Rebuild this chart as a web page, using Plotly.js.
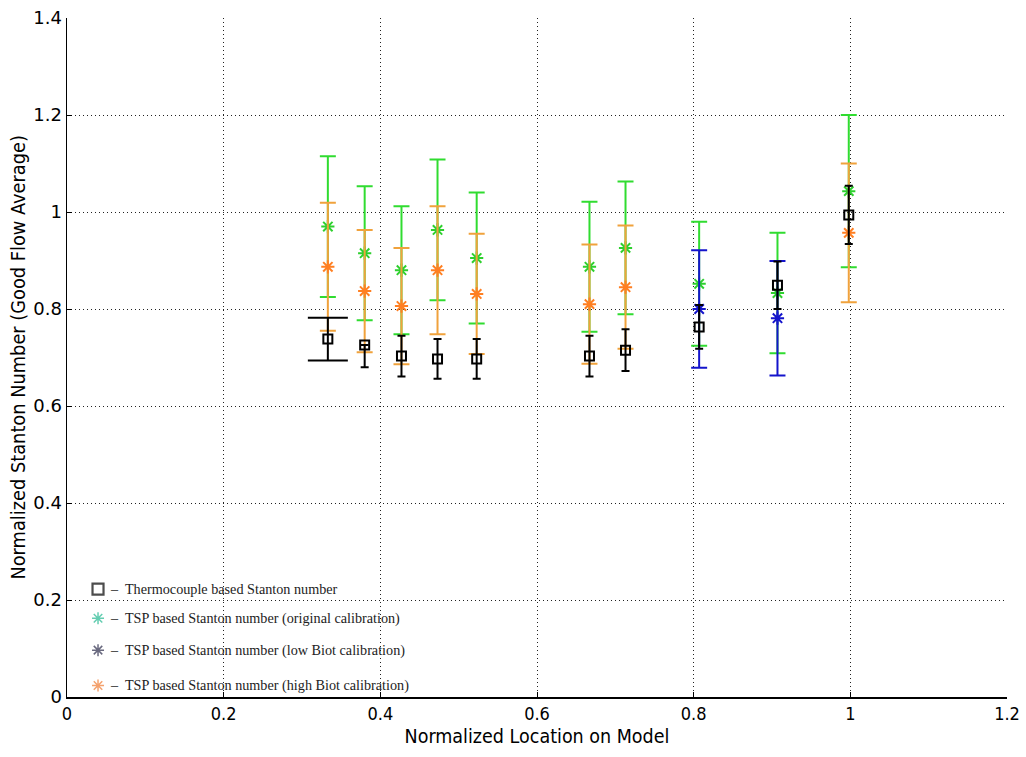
<!DOCTYPE html>
<html>
<head>
<meta charset="utf-8">
<script src="https://cdn.plot.ly/plotly-3.0.1.min.js"></script>
<style>
  html, body { margin: 0; padding: 0; background: #fff; }
  #chart { width: 1026px; height: 757px; }
</style>
</head>
<body>
<div id="chart"></div>
<script>
// Measurement stations along the model (normalized location)
const stations = [0.333, 0.38, 0.427, 0.473, 0.523, 0.667, 0.713, 0.807, 0.907, 0.998];

// Thermocouple based Stanton number
const tcValue   = [0.738, 0.726, 0.703, 0.697, 0.697, 0.703, 0.715, 0.763, 0.849, 0.994];
const tcErrUp   = [0.044, 0.000, 0.042, 0.041, 0.041, 0.042, 0.043, 0.045, 0.049, 0.060];
const tcErrDown = [0.044, 0.046, 0.042, 0.041, 0.041, 0.042, 0.043, 0.045, 0.049, 0.060];

// TSP based Stanton number, original calibration (all stations)
const tspOrigValue = [0.970, 0.915, 0.880, 0.963, 0.905, 0.887, 0.926, 0.852, 0.833, 1.043];
const tspOrigErr   = [0.145, 0.138, 0.132, 0.145, 0.135, 0.134, 0.137, 0.128, 0.124, 0.157];

// TSP based Stanton number, high Biot calibration
const highBiotX     = [0.333, 0.38, 0.427, 0.473, 0.523, 0.667, 0.713, 0.998];
const highBiotValue = [0.887, 0.837, 0.806, 0.880, 0.831, 0.810, 0.845, 0.957];
const highBiotErr   = [0.132, 0.126, 0.120, 0.132, 0.124, 0.123, 0.127, 0.143];

// TSP based Stanton number, low Biot calibration
const lowBiotX     = [0.807, 0.907];
const lowBiotValue = [0.800, 0.781];
const lowBiotErr   = [0.121, 0.118];

// Key entries
const keyLabels = [
  "\u2013  Thermocouple based Stanton number",
  "\u2013  TSP based Stanton number (original calibration)",
  "\u2013  TSP based Stanton number (low Biot calibration)",
  "\u2013  TSP based Stanton number (high Biot calibration)"
];
const keySymbols = ["square-open", "asterisk-open", "asterisk-open", "asterisk-open"];
const keyColors  = ["#000000", "#22b890", "#2a2a48", "#f07a30"];

const GREEN_BAR = "#30dc30", GREEN_STAR = "#2ed02e";
const ORANGE_BAR = "#f0a23c", ORANGE_STAR = "#ff7f22";
const BLUE = "#1414cc";

const starMarker = (c) => ({ symbol: "asterisk-open", size: 11, color: c, line: { color: c, width: 2 } });

const traces = [];

// Original calibration
traces.push({
  x: stations, y: tspOrigValue, type: "scatter", mode: "markers",
  marker: starMarker(GREEN_STAR),
  error_y: { type: "data", array: tspOrigErr, visible: true, color: GREEN_BAR, thickness: 2, width: 8 },
  showlegend: false, hoverinfo: "x+y"
});

// High Biot calibration
traces.push({
  x: highBiotX, y: highBiotValue, type: "scatter", mode: "markers",
  marker: starMarker(ORANGE_STAR),
  error_y: { type: "data", array: highBiotErr, visible: true, color: ORANGE_BAR, thickness: 2, width: 8 },
  showlegend: false, hoverinfo: "x+y"
});

// Low Biot calibration
traces.push({
  x: lowBiotX, y: lowBiotValue, type: "scatter", mode: "markers",
  marker: starMarker(BLUE),
  error_y: { type: "data", array: lowBiotErr, visible: true, color: BLUE, thickness: 2, width: 8 },
  showlegend: false, hoverinfo: "x+y"
});

// Thermocouple: first station has wide caps, the rest narrow
traces.push({
  x: stations.slice(0, 1), y: tcValue.slice(0, 1), type: "scatter", mode: "markers",
  marker: { symbol: "square-open", size: 9, color: "#000", line: { color: "#000", width: 2 } },
  error_y: { type: "data", symmetric: false, array: tcErrUp.slice(0, 1), arrayminus: tcErrDown.slice(0, 1),
             visible: true, color: "#000", thickness: 2, width: 20 },
  showlegend: false, hoverinfo: "x+y"
});
traces.push({
  x: stations.slice(1), y: tcValue.slice(1), type: "scatter", mode: "markers",
  marker: { symbol: "square-open", size: 9, color: "#000", line: { color: "#000", width: 2 } },
  error_y: { type: "data", symmetric: false, array: tcErrUp.slice(1), arrayminus: tcErrDown.slice(1),
             visible: true, color: "#000", thickness: 2, width: 4 },
  showlegend: false, hoverinfo: "x+y"
});

// Key symbols on an overlay axis spanning the plot area
const keyX = [0.033, 0.033, 0.033, 0.033];
const keyY = [0.159, 0.116, 0.069, 0.017];
traces.push({
  x: keyX, y: keyY, xaxis: "x2", yaxis: "y2", type: "scatter", mode: "markers",
  marker: {
    symbol: keySymbols, size: [11, 10, 10, 10], color: keyColors,
    line: { color: keyColors, width: [2.2, 1.5, 1.5, 1.5] }
  },
  showlegend: false, hoverinfo: "skip"
});

const annotations = keyLabels.map((t, i) => ({
  xref: "x2", yref: "y2", x: 0.044, y: keyY[i], text: t, showarrow: false,
  xanchor: "left", yanchor: "middle",
  font: { family: "Liberation Serif, Times New Roman, serif", size: 14.2, color: "#222" }
}));

// Vertical axis title, placed a little above the plot centre
annotations.push({
  xref: "paper", yref: "paper", x: -0.052, y: 0.5, textangle: -90,
  text: "Normalized Stanton Number (Good Flow Average)", showarrow: false,
  xanchor: "center", yanchor: "middle",
  font: { family: "DejaVu Sans Condensed, DejaVu Sans, sans-serif", size: 19.8, color: "#000" }
});

const GRID_DASH = "1px,3px";

const layout = {
  width: 1026, height: 757,
  margin: { l: 67, r: 19, t: 18, b: 60 },
  paper_bgcolor: "#fff", plot_bgcolor: "#fff",
  showlegend: false,
  xaxis: {
    range: [0, 1.2], dtick: 0.2, tick0: 0,
    showgrid: true, gridcolor: "#222", griddash: GRID_DASH, gridwidth: 1,
    zeroline: false, showline: true, linecolor: "#000", linewidth: 1.5,
    ticks: "inside", ticklen: 5, tickcolor: "#000",
    tickfont: { family: "DejaVu Sans Condensed, DejaVu Sans, sans-serif", size: 18, color: "#000" },
    title: { text: "Normalized Location on Model", standoff: 6,
             font: { family: "DejaVu Sans Condensed, DejaVu Sans, sans-serif", size: 19.5, color: "#000" } }
  },
  yaxis: {
    range: [0, 1.4], dtick: 0.2, tick0: 0,
    showgrid: true, gridcolor: "#222", griddash: GRID_DASH, gridwidth: 1,
    zeroline: false, showline: true, linecolor: "#000", linewidth: 1.5,
    ticks: "inside", ticklen: 5, tickcolor: "#000",
    tickfont: { family: "DejaVu Sans, sans-serif", size: 18, color: "#000" }
  },
  xaxis2: { overlaying: "x", range: [0, 1], visible: false, fixedrange: true },
  yaxis2: { overlaying: "y", range: [0, 1], visible: false, fixedrange: true },
  annotations: annotations
};

Plotly.newPlot("chart", traces, layout, { displayModeBar: false, staticPlot: true });
</script>
</body>
</html>
